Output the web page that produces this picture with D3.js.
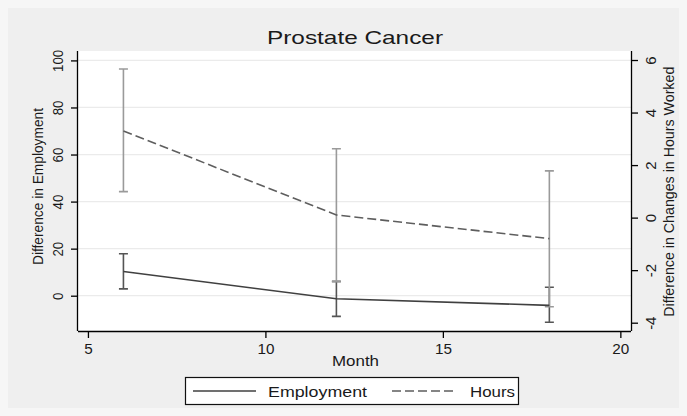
<!DOCTYPE html>
<html>
<head>
<meta charset="utf-8">
<script src="https://cdn.jsdelivr.net/npm/d3@7"></script>
<style>
  body { margin: 0; background: #f6f6f6; }
  text { font-family: Arial, "Liberation Sans", sans-serif; fill: #1a1a1a; }
</style>
</head>
<body>
<div id="chart"></div>
<script>
// data
const months = [6, 12, 18]
const employment = [10.3, -1.3, -4.1]
const empLow = [2.9, -8.8, -11.3]
const empHigh = [17.8, 6.1, 3.6]
const hours = [3.3, 0.1, -0.8]
const hoursLow = [0.99, -2.44, -3.39]
const hoursHigh = [5.66, 2.62, 1.78]

const xTicks = [5, 10, 15, 20]
const yLeftTicks = [0, 20, 40, 60, 80, 100]
const yRightTicks = [-4, -2, 0, 2, 4, 6]

const width = 687, height = 416
const plot = {left: 78, right: 631, top: 51, bottom: 331}

const svg = d3.select("#chart")
  .append("svg")
    .attr("width", width)
    .attr("height", height)

svg.append("rect")
  .attr("x", 8).attr("y", 8)
  .attr("width", width - 16).attr("height", height - 16)
  .attr("fill", "#efefef")

svg.append("rect")
  .attr("x", plot.left).attr("y", plot.top)
  .attr("width", plot.right - plot.left).attr("height", plot.bottom - plot.top)
  .attr("fill", "white")

const x = d3.scaleLinear().domain([4.72, 20.3]).range([plot.left, plot.right])
const yL = d3.scaleLinear().domain([-15, 104]).range([plot.bottom, plot.top])
const yR = d3.scaleLinear().domain([-4.316, 6.343]).range([plot.bottom, plot.top])

// gridlines
svg.append("g")
  .selectAll("line")
  .data(yLeftTicks)
  .join("line")
    .attr("x1", plot.left).attr("x2", plot.right)
    .attr("y1", d => yL(d)).attr("y2", d => yL(d))
    .attr("stroke", "#ebebeb")
    .attr("stroke-width", 1.2)

// axes
const xAxis = svg.append("g")
  .attr("transform", `translate(0,${plot.bottom})`)
  .call(d3.axisBottom(x).tickValues(xTicks).tickSize(7).tickPadding(6).tickFormat(d => String(d)))
xAxis.select(".domain").attr("d", `M${plot.left},0.5H${plot.right}`).attr("stroke-width", 1.3)
xAxis.selectAll(".tick text")
  .attr("font-size", 14)
  .attr("fill", "#1a1a1a")
  .attr("textLength", d => String(d).length * 8.5)
  .attr("lengthAdjust", "spacingAndGlyphs")

const leftAxis = svg.append("g")
  .attr("transform", `translate(${plot.left},0)`)
  .call(d3.axisLeft(yL).tickValues(yLeftTicks).tickSize(7).tickPadding(0).tickFormat(d => String(d)))
leftAxis.select(".domain").attr("d", `M-0.5,${plot.top}V${plot.bottom}`).attr("stroke-width", 1.3)
leftAxis.selectAll(".tick text")
  .attr("font-size", 15)
  .attr("text-anchor", "middle")
  .attr("transform", "rotate(-90)")
  .attr("x", 0).attr("y", -15)
  .attr("dy", 0)
  .attr("textLength", d => String(d).length * 7.4)
  .attr("lengthAdjust", "spacingAndGlyphs")

const rightAxis = svg.append("g")
  .attr("transform", `translate(${plot.right},0)`)
  .call(d3.axisRight(yR).tickValues(yRightTicks).tickSize(7).tickPadding(0).tickFormat(d => String(d)))
rightAxis.select(".domain").attr("d", `M0.5,${plot.top}V${plot.bottom}`).attr("stroke-width", 1.3)
rightAxis.selectAll(".tick text")
  .attr("font-size", 15)
  .attr("text-anchor", "middle")
  .attr("transform", "rotate(-90)")
  .attr("x", 0).attr("y", 25)
  .attr("dy", 0)

svg.selectAll(".tick line").attr("stroke-width", 1.3)

// confidence intervals
function caps(lo, hi, color, scale) {
  const g = svg.append("g").attr("stroke", color).attr("stroke-width", 1.6).attr("fill", "none")
  g.selectAll("path")
    .data(months.map((m, i) => ({m, lo: lo[i], hi: hi[i]})))
    .join("path")
      .attr("d", d => {
        const cx = x(d.m), y0 = scale(d.lo), y1 = scale(d.hi)
        return `M${cx - 4.5},${y0}H${cx + 4.5}M${cx},${y0}V${y1}M${cx - 4.5},${y1}H${cx + 4.5}`
      })
}
caps(empLow, empHigh, "#555555", yL)
caps(hoursLow, hoursHigh, "#9a9a9a", yR)

// lines
const empLine = d3.line().x((d, i) => x(months[i])).y(d => yL(d))
const hoursLine = d3.line().x((d, i) => x(months[i])).y(d => yR(d))

svg.append("path")
  .datum(employment)
  .attr("d", empLine)
  .attr("fill", "none")
  .attr("stroke", "#404040")
  .attr("stroke-width", 1.6)

svg.append("path")
  .datum(hours)
  .attr("d", hoursLine)
  .attr("fill", "none")
  .attr("stroke", "#5e5e5e")
  .attr("stroke-width", 1.6)
  .attr("stroke-dasharray", "9,4")

// titles
svg.append("text")
  .attr("x", 355).attr("y", 43.5)
  .attr("text-anchor", "middle")
  .attr("font-size", 19)
  .attr("textLength", 176)
  .attr("lengthAdjust", "spacingAndGlyphs")
  .text("Prostate Cancer")

svg.append("text")
  .attr("x", 355.5).attr("y", 366)
  .attr("text-anchor", "middle")
  .attr("font-size", 15)
  .attr("textLength", 47)
  .attr("lengthAdjust", "spacingAndGlyphs")
  .text("Month")

svg.append("text")
  .attr("transform", `translate(43,186.5) rotate(-90)`)
  .attr("text-anchor", "middle")
  .attr("font-size", 14)
  .attr("textLength", 157)
  .attr("lengthAdjust", "spacingAndGlyphs")
  .text("Difference in Employment")

svg.append("text")
  .attr("transform", `translate(674,191.7) rotate(-90)`)
  .attr("text-anchor", "middle")
  .attr("font-size", 14)
  .attr("textLength", 250)
  .attr("lengthAdjust", "spacingAndGlyphs")
  .text("Difference in Changes in Hours Worked")

// legend
const legend = svg.append("g")
legend.append("rect")
  .attr("x", 185.5).attr("y", 377.5)
  .attr("width", 333).attr("height", 27)
  .attr("fill", "white")
  .attr("stroke", "#111")
  .attr("stroke-width", 1.2)

const legendItems = [
  {name: "Employment", x1: 193, x2: 256, tx: 268, tl: 99, color: "#404040", dash: null},
  {name: "Hours", x1: 392, x2: 457, tx: 470, tl: 45, color: "#5e5e5e", dash: "9,4"}
]
legend.selectAll("line")
  .data(legendItems)
  .join("line")
    .attr("x1", d => d.x1).attr("x2", d => d.x2)
    .attr("y1", 391).attr("y2", 391)
    .attr("stroke", d => d.color)
    .attr("stroke-width", 1.6)
    .attr("stroke-dasharray", d => d.dash)
legend.selectAll("text")
  .data(legendItems)
  .join("text")
    .attr("x", d => d.tx).attr("y", 396.5)
    .attr("font-size", 15)
    .attr("textLength", d => d.tl)
    .attr("lengthAdjust", "spacingAndGlyphs")
    .text(d => d.name)
</script>
</body>
</html>
